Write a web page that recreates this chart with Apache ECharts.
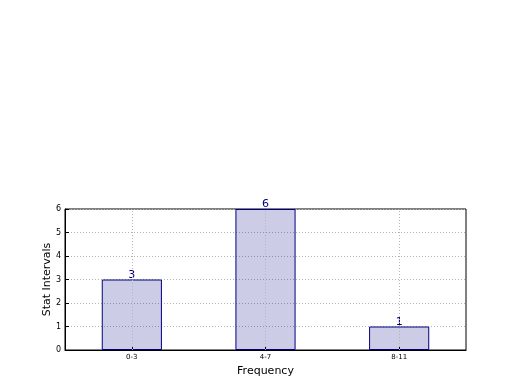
<!DOCTYPE html>
<html><head><meta charset="utf-8">
<script src="https://cdn.jsdelivr.net/npm/echarts@6/dist/echarts.min.js"></script>
<style>html,body{margin:0;padding:0;background:#fff}#c{width:520px;height:390px}</style>
</head><body><div id="c"></div>
<script>
const categories = ['0-3', '4-7', '8-11'];
const values = [3, 6, 1];
const yTicks = [0, 1, 2, 3, 4, 5, 6];

const chart = echarts.init(document.getElementById('c'), null, {renderer: 'canvas'});
const dotStyle = {color: '#b4b4b4', type: [1, 2], width: 1};
chart.setOption({
  animation: false,
  backgroundColor: '#fff',
  grid: {left: 65, right: 54, top: 209, bottom: 40, show: true, borderColor: '#000', borderWidth: 1},
  xAxis: {
    type: 'category', data: categories,
    name: 'Frequency', nameLocation: 'middle', nameGap: 16,
    nameTextStyle: {fontFamily: 'DejaVu Sans', fontSize: 11, color: '#000'},
    axisLine: {lineStyle: {color: '#000'}},
    axisTick: {show: true, alignWithLabel: true, inside: true, length: 4, lineStyle: {color: '#000'}},
    axisLabel: {fontFamily: 'DejaVu Sans', fontSize: 7, color: '#000', margin: 4},
    splitLine: {show: false}
  },
  yAxis: {
    type: 'value', min: yTicks[0], max: yTicks[yTicks.length - 1], interval: 1,
    name: 'Stat Intervals', nameLocation: 'middle', nameGap: 12, nameMoveOverlap: false,
    nameTextStyle: {fontFamily: 'DejaVu Sans', fontSize: 11, color: '#000'},
    axisLine: {show: true, lineStyle: {color: '#000'}},
    axisTick: {show: true, inside: true, length: 4, lineStyle: {color: '#000'}},
    axisLabel: {fontFamily: 'DejaVu Sans', fontSize: 8, color: '#000', margin: 4},
    splitLine: {show: true, lineStyle: dotStyle}
  },
  series: [{
    type: 'bar', data: values, barWidth: '45%',
    itemStyle: {color: 'rgba(0,0,128,0.2)', borderColor: '#000080', borderWidth: 1},
    label: {show: true, position: 'top', distance: -1, color: '#000080', fontFamily: 'DejaVu Sans', fontSize: 11},
    markLine: {
      silent: true, symbol: 'none', label: {show: false},
      lineStyle: dotStyle,
      data: categories.map(c => ({xAxis: c}))
    }
  }]
});
</script></body></html>
